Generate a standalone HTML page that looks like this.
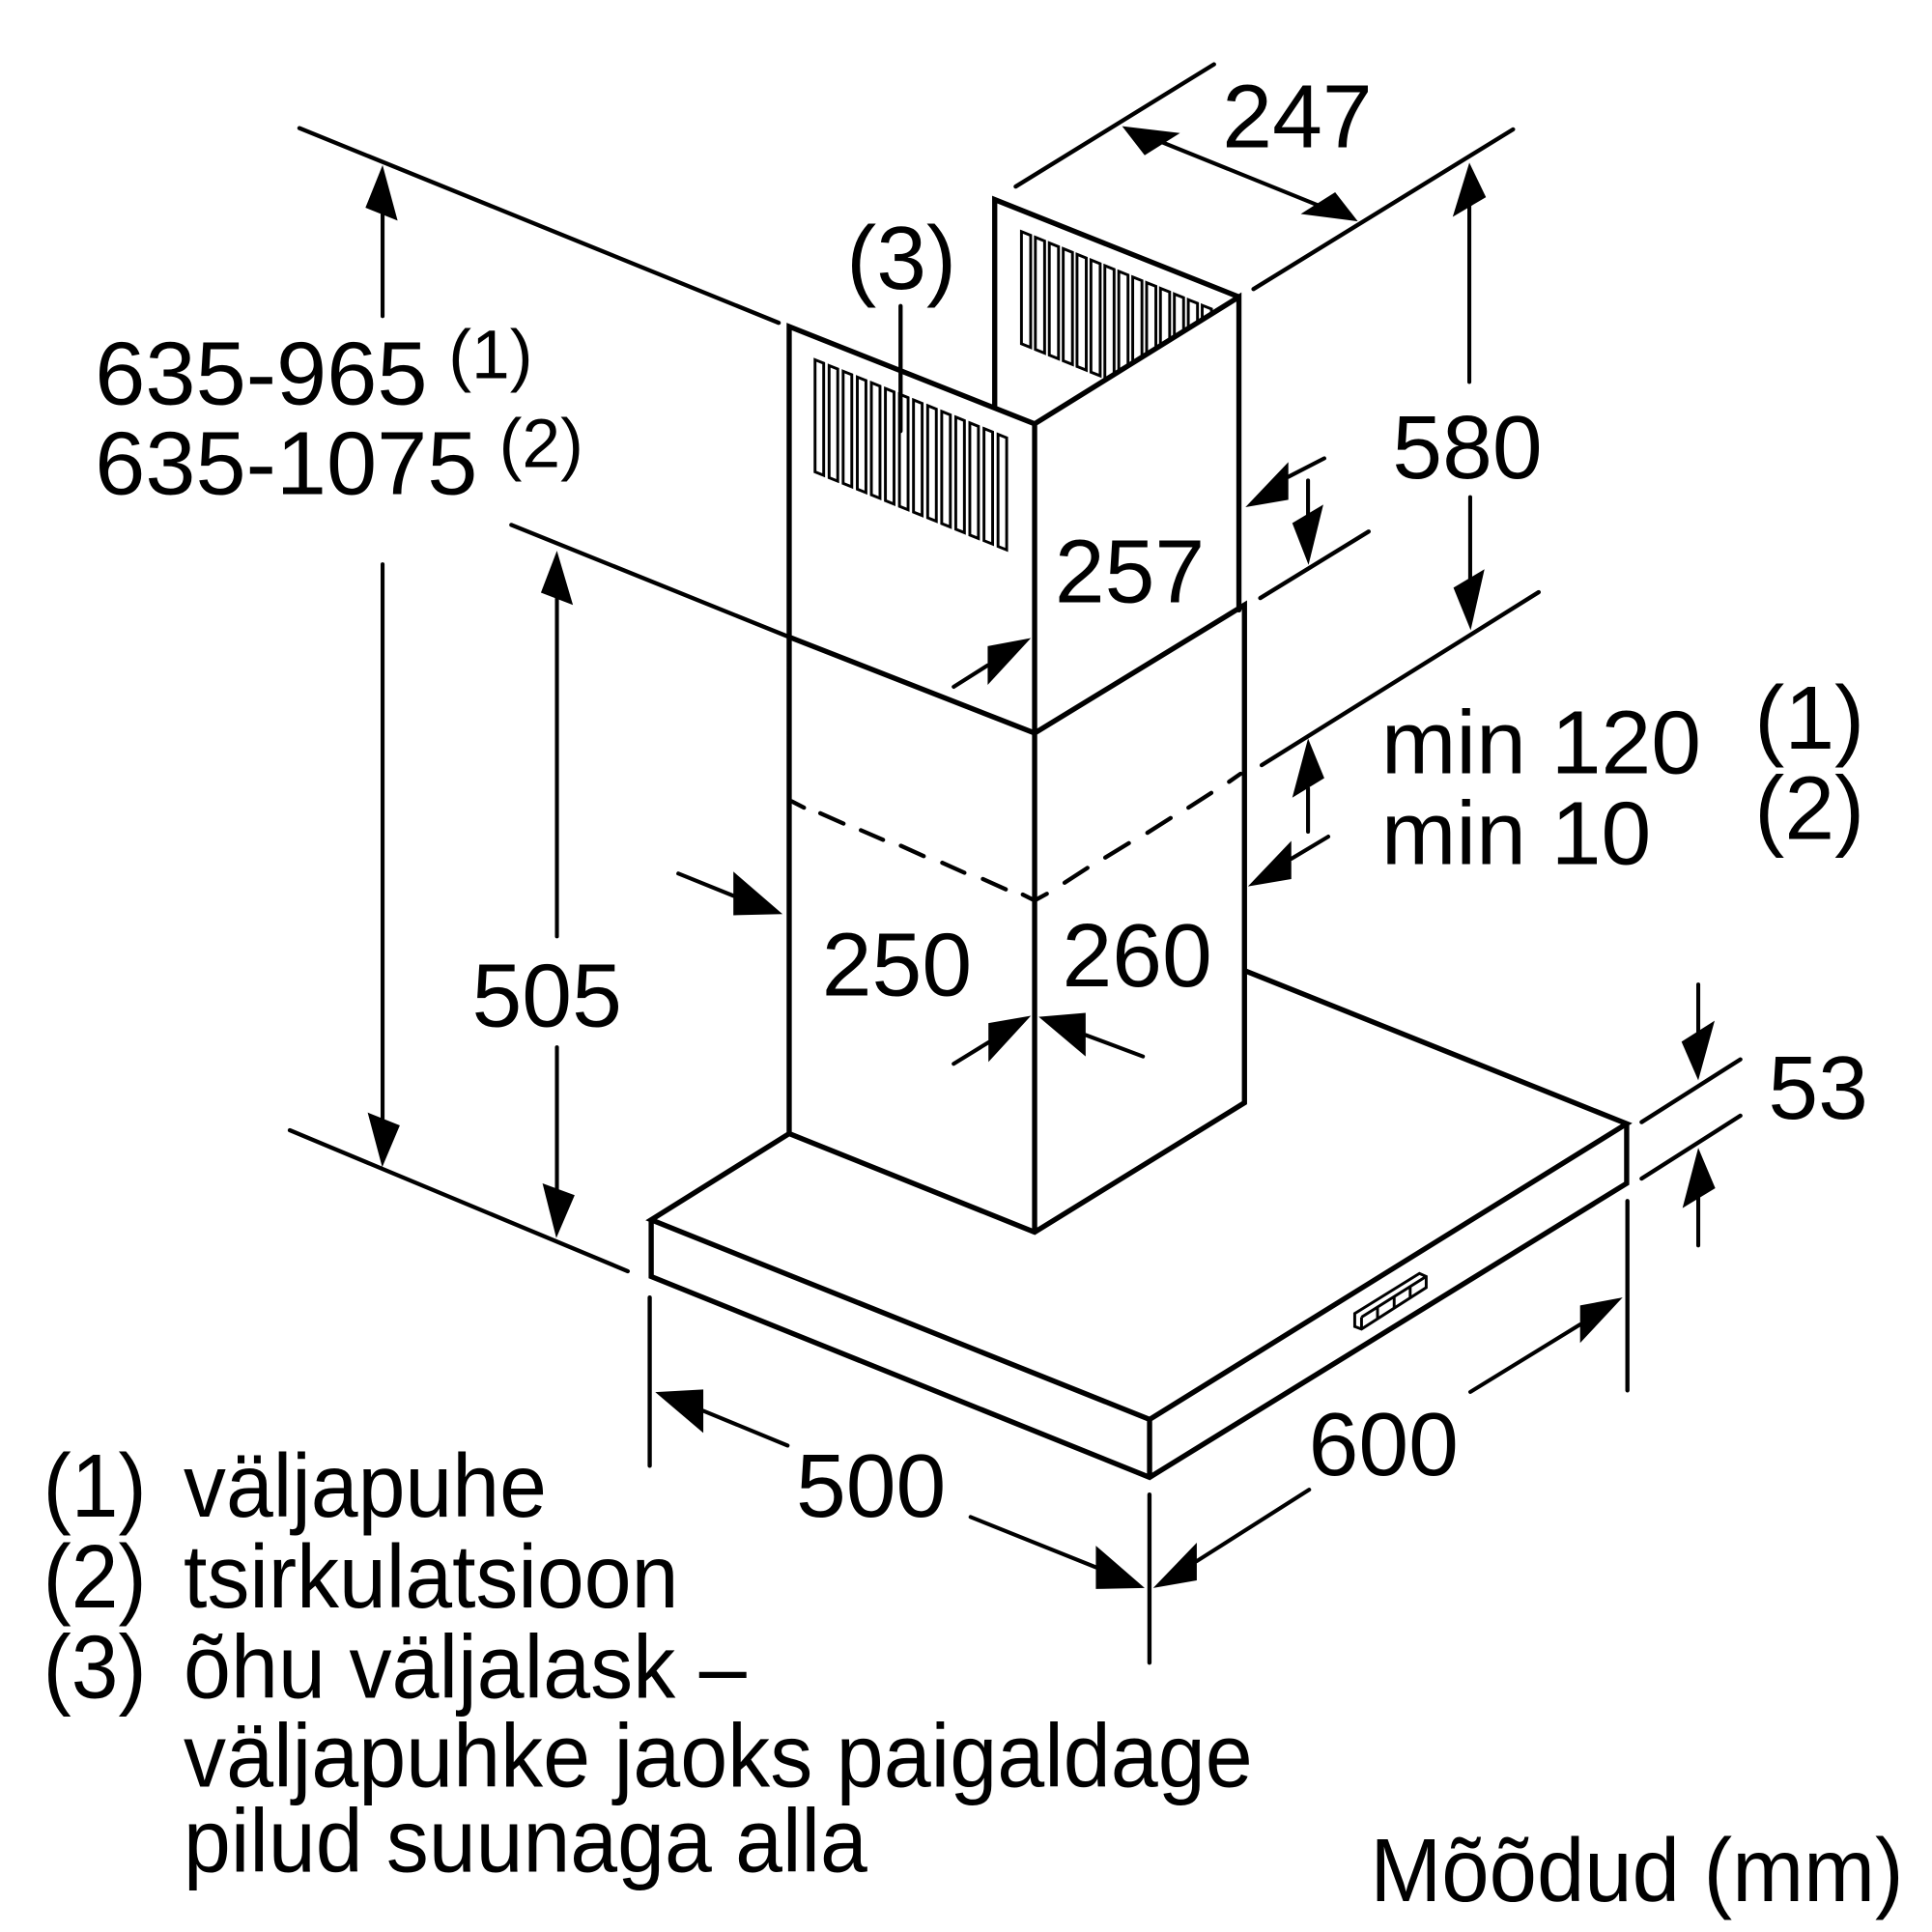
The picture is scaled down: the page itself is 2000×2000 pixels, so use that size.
<!DOCTYPE html>
<html lang="et">
<head>
<meta charset="utf-8">
<title>Mõõdud</title>
<style>
html,body{margin:0;padding:0;background:#fff}
svg{display:block}
text{font-family:"Liberation Sans",Arial,sans-serif;font-size:73px;fill:#000}
.s{font-size:56px}
.t{stroke:#000;stroke-width:4.2;fill:none;stroke-linecap:round;stroke-linejoin:miter}
.m{stroke:#000;stroke-width:3.4;fill:none;stroke-linecap:round}
.d{stroke:#000;stroke-width:3.2;fill:none;stroke-linecap:round}
.b{stroke:#000;stroke-width:2.3;fill:#fff}
</style>
</head>
<body>
<svg width="2000" height="2000" viewBox="0 0 1568 1568" xmlns="http://www.w3.org/2000/svg">
<rect width="1568" height="1568" fill="#fff"/>
<defs>
<clipPath id="rc"><polygon points="815,150 1005,150 1005,241 840,344 815,344"/></clipPath>
</defs>

<!-- rear louvres -->
<g class="b" clip-path="url(#rc)">
<path d="M829 188l7.5 3v91l-7.5 -3z"/>
<path d="M840.3 192.6l7.5 3v91l-7.5 -3z"/>
<path d="M851.6 197.2l7.5 3v91l-7.5 -3z"/>
<path d="M862.9 201.8l7.5 3v91l-7.5 -3z"/>
<path d="M874.1 206.4l7.5 3v91l-7.5 -3z"/>
<path d="M885.4 211l7.5 3v91l-7.5 -3z"/>
<path d="M896.7 215.6l7.5 3v91l-7.5 -3z"/>
<path d="M908 220.2l7.5 3v91l-7.5 -3z"/>
<path d="M919.3 224.8l7.5 3v91l-7.5 -3z"/>
<path d="M930.6 229.4l7.5 3v91l-7.5 -3z"/>
<path d="M941.8 234l7.5 3v91l-7.5 -3z"/>
<path d="M953.1 238.6l7.5 3v91l-7.5 -3z"/>
<path d="M964.4 243.2l7.5 3v91l-7.5 -3z"/>
<path d="M975.7 247.8l7.5 3v91l-7.5 -3z"/>
</g>
<!-- front louvres -->
<g class="b">
<path d="M661.5 292l7 2.8v91l-7 -2.8z"/>
<path d="M672.9 296.7l7 2.8v91l-7 -2.8z"/>
<path d="M684.3 301.3l7 2.8v91l-7 -2.8z"/>
<path d="M695.8 306l7 2.8v91l-7 -2.8z"/>
<path d="M707.2 310.6l7 2.8v91l-7 -2.8z"/>
<path d="M718.6 315.3l7 2.8v91l-7 -2.8z"/>
<path d="M730 319.9l7 2.8v91l-7 -2.8z"/>
<path d="M741.4 324.6l7 2.8v91l-7 -2.8z"/>
<path d="M752.9 329.2l7 2.8v91l-7 -2.8z"/>
<path d="M764.3 333.9l7 2.8v91l-7 -2.8z"/>
<path d="M775.7 338.5l7 2.8v91l-7 -2.8z"/>
<path d="M787.1 343.2l7 2.8v91l-7 -2.8z"/>
<path d="M798.6 347.8l7 2.8v91l-7 -2.8z"/>
<path d="M810 352.5l7 2.8v91l-7 -2.8z"/>
</g>

<!-- duct -->
<path class="t" d="M640.5 920V265L839.7 344M839.7 344V1000M807.3 331V162L1005.5 241M839.7 344L1005.5 241V495M640.5 517L839.7 595L1010 491V895L839.7 1000L640.5 920"/>

<!-- dashed -->
<path class="m" d="M642.6 650.4L652.5 655.5M665.7 660L684.6 668.4M698.7 673.8L716.7 681.6M731.1 686.4L749.7 694.8M764.7 700.2L782.7 708.3M797.7 713.4L816.3 721.8M830.1 726L839.7 730.8L849.6 725.4M864 716.4L882.6 704.4M897 696L916.2 684.3M931.2 675.9L950.1 663.9M964.5 655.5L983.1 643.5M997.5 634.5L1006.8 628"/>

<!-- hood -->
<path class="t" d="M640.5 920L528.5 990L933 1152L1320.2 912L1010.8 788M528.5 990V1036L933 1199L1320.2 960.4V912M933 1152V1199"/>

<!-- control panel -->
<g stroke="#000" stroke-width="2.3" fill="none">
<path d="M1099.5 1066L1152 1033.5L1157.5 1036V1045L1105 1078.7L1099.5 1076.6Z"/>
<path d="M1105 1069L1157.5 1036M1105 1069V1078.7M1118 1060.5V1070.5M1131.5 1052V1062M1144.5 1044V1054"/>
</g>

<!-- extension lines -->
<g class="m">
<path d="M243 104L632 262"/>
<path d="M415 426L640.5 517"/>
<path d="M235.2 917.3L509.5 1031.7"/>
<path d="M824.3 151.4L985.3 52.2"/>
<path d="M1017.3 234.6L1228 105"/>
<path d="M1022.8 485.4L1110.8 431.4"/>
<path d="M1024 621L1248.8 480.6"/>
<path d="M1332.3 910.7L1412.5 859.8"/>
<path d="M1332.3 956.5L1412.5 905.5"/>
<path d="M1320.8 974.7V1128.4"/>
<path d="M527.3 1053V1189.6"/>
<path d="M932.9 1213V1349.4"/>
<path d="M730.9 248.4V349.8"/>
</g>

<!-- dimension lines -->
<g class="d">
<path d="M310.5 170V256.6"/>
<path d="M310.5 458V915"/>
<path d="M452 480V760"/>
<path d="M452 850V970"/>
<path d="M943 115.4L1070 166.7"/>
<path d="M1192.5 165V310"/>
<path d="M1193.2 403.5V470"/>
<path d="M1061.6 390V420"/>
<path d="M1061.6 640V675"/>
<path d="M1045.6 387L1074.8 372"/>
<path d="M1048 697L1078 679"/>
<path d="M801.6 540L774 557.4"/>
<path d="M802.2 846L774 863.4"/>
<path d="M595.2 727L550.5 708.9"/>
<path d="M881.1 840L927.6 857.4"/>
<path d="M1378.3 799V840"/>
<path d="M1378.3 970V1010.8"/>
<path d="M1282.4 1075L1193.3 1129.7"/>
<path d="M971.3 1267L1062.5 1209"/>
<path d="M570.8 1145L639.2 1173.2"/>
<path d="M889.4 1272L787.7 1231.2"/>
</g>

<!-- arrowheads -->
<g fill="#000">
<polygon points="310.5,134 296.6,168.6 322.7,179"/>
<polygon points="310.2,947.3 298.4,902.9 324.5,913.4"/>
<polygon points="452,447 439,481 465,491"/>
<polygon points="451.5,1004.8 440.3,960.4 466.4,970"/>
<polygon points="910.7,102.4 957.7,108 929,126"/>
<polygon points="1102,179.6 1083.6,156 1055.7,173.7"/>
<polygon points="1192.5,132 1179,176 1206,160"/>
<polygon points="1193.6,511.5 1179.6,477 1204.8,462"/>
<polygon points="1010.8,411.6 1045.6,375 1045.6,405.6"/>
<polygon points="1062,458.4 1048.8,424.5 1074,409.5"/>
<polygon points="1061.6,599.4 1074.8,631.5 1048.8,647.4"/>
<polygon points="1012.8,719.4 1048,682.5 1048,713.4"/>
<polygon points="836.7,517.8 801.6,524.4 801.6,555.9"/>
<polygon points="635.1,741.9 595.2,707.4 595.2,742.8"/>
<polygon points="836.7,824.4 802.2,830.4 802.2,861.9"/>
<polygon points="843,825.3 881.1,822 881.1,857.4"/>
<polygon points="1378.3,876.8 1364.7,845.4 1391.6,828.4"/>
<polygon points="1378.3,931.6 1392.1,964.3 1365.5,980.5"/>
<polygon points="1316.9,1053 1282.4,1059.5 1282.4,1090"/>
<polygon points="935.9,1288.8 971.3,1252 971.3,1282.6"/>
<polygon points="929,1288.8 889.4,1254.5 889.4,1289.6"/>
<polygon points="531.8,1129.8 570.8,1127.7 570.8,1163"/>
</g>

<!-- labels -->
<text x="992" y="119.4">247</text>
<text x="687" y="234.6">(3)</text>
<text transform="translate(77 328) scale(1.008 1)">635-965</text>
<text class="s" x="364" y="307">(1)</text>
<text transform="translate(77 401) scale(1.007 1)">635-1075</text>
<text class="s" x="405" y="379">(2)</text>
<text x="1130" y="388">580</text>
<text x="856" y="489">257</text>
<text x="1121" y="627.6">min 120</text>
<text x="1424" y="607.5">(1)</text>
<text x="1121" y="701.4">min 10</text>
<text x="1424" y="681">(2)</text>
<text x="383" y="833">505</text>
<text x="667" y="807.9">250</text>
<text x="862" y="800.4">260</text>
<text x="1435" y="908">53</text>
<text x="1062" y="1197.3">600</text>
<text x="646" y="1231">500</text>
<text transform="translate(35 1231) scale(.94 1)">(1)</text>
<text transform="translate(149 1231) scale(.943 1)">väljapuhe</text>
<text transform="translate(35 1304.6) scale(.94 1)">(2)</text>
<text transform="translate(149 1304.6) scale(.943 1)">tsirkulatsioon</text>
<text transform="translate(35 1378) scale(.94 1)">(3)</text>
<text transform="translate(149 1378) scale(.946 1)">õhu väljalask –</text>
<text transform="translate(149 1450) scale(.946 1)">väljapuhke jaoks paigaldage</text>
<text transform="translate(149 1519) scale(.943 1)">pilud suunaga alla</text>
<text transform="translate(1112 1543) scale(.953 1)">Mõõdud (mm)</text>
</svg>
</body>
</html>
